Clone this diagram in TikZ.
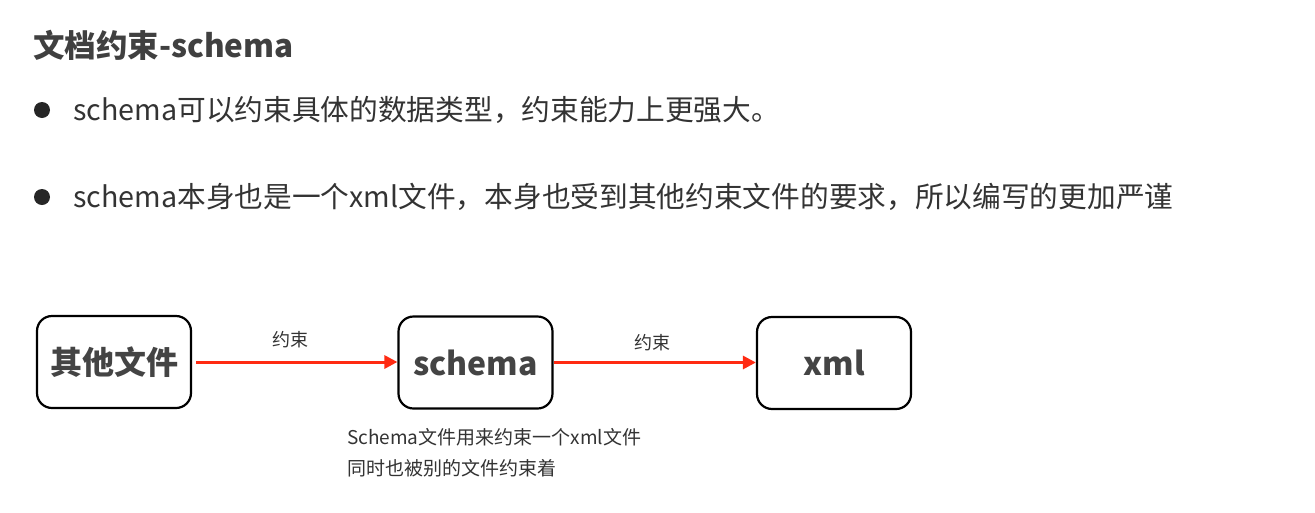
\documentclass[tikz,border=0pt]{standalone}
\usepackage{fontspec}
\setmainfont{Noto Sans CJK SC}
\usetikzlibrary{arrows.meta}
\definecolor{txt}{HTML}{333333}
\definecolor{ttl}{HTML}{404040}
\definecolor{boxtxt}{HTML}{444444}
\definecolor{arr}{HTML}{FF2A12}
\tikzset{
  filebox/.style={draw=black, line width=2.2pt, rounded corners=15pt, minimum width=154pt, minimum height=92pt, inner sep=0pt, text=boxtxt, font=\bfseries\fontsize{32}{38}\selectfont},
  conn/.style={draw=arr, line width=3pt, -{Triangle[length=13pt,width=13pt]}},
  lbl/.style={text=txt, font=\fontsize{18}{22}\selectfont, inner sep=0pt},
  captext/.style={anchor=west, text=txt, font=\fontsize{19}{23}\selectfont, inner sep=0pt},
  bullettext/.style={anchor=west, text=txt, font=\fontsize{28.7}{34}\selectfont, inner sep=0pt},
  dotmark/.style={circle, fill=black!85, minimum size=16pt, inner sep=0pt}
}
\begin{document}
\begin{tikzpicture}[x=1pt,y=-1pt]
\useasboundingbox[fill=white] (0,0) rectangle (1315,512);
\node[anchor=west, text=ttl, inner sep=0pt, font=\bfseries\fontsize{31.5}{38}\selectfont] (title) at (33,45) {文档约束-schema};
\node[dotmark] (d1) at (42,110) {};
\node[bullettext] (t1) at (73,110) {schema可以约束具体的数据类型，约束能力上更强大。};
\node[dotmark] (d2) at (42,197) {};
\node[bullettext] (t2) at (73,197) {schema本身也是一个xml文件，本身也受到其他约束文件的要求，所以编写的更加严谨};
\node[filebox] (a) at (114,362) {其他文件};
\node[filebox] (b) at (475.5,362.5) {schema};
\node[filebox] (c) at (834,363) {xml};
\draw[conn] (a.east) ++(4,0) coordinate (a1) -- (b.west |- a1);
\draw[conn] (b.east) -- (c.west |- b.east);
\node[lbl] (l1) at (290,340) {约束};
\node[lbl] (l2) at (652,343) {约束};
\node[captext] (cap1) at (347,437) {Schema文件用来约束一个xml文件};
\node[captext] (cap2) at (347,468) {同时也被别的文件约束着};
\end{tikzpicture}
\end{document}
